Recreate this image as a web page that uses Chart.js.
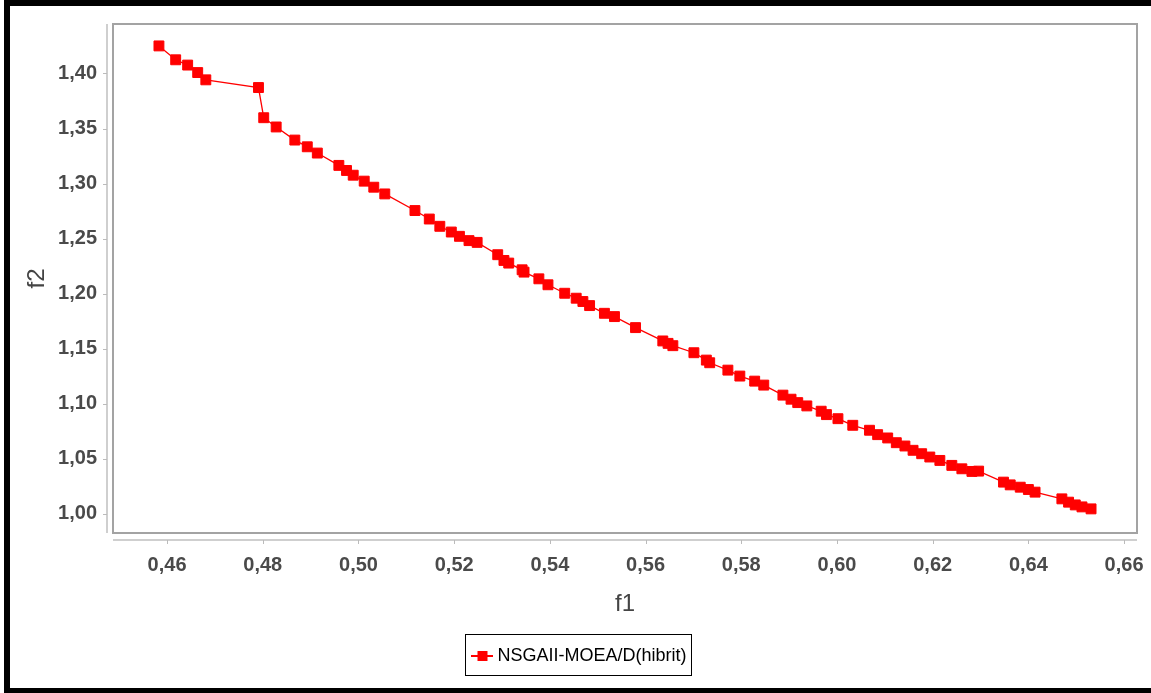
<!DOCTYPE html>
<html>
<head>
<meta charset="utf-8">
<script src="https://cdn.jsdelivr.net/npm/chart.js@4.4.1/dist/chart.umd.min.js"></script>
<style>
  html, body { margin: 0; padding: 0; background: #fff; }
  #wrap { position: relative; width: 1151px; height: 693px; overflow: hidden; }
  #wrap canvas { position: absolute; left: 0; top: 0; }
  .edge { position: absolute; background: #000; }
</style>
</head>
<body>
<div id="wrap">
  <canvas id="grafico" width="1151" height="693"></canvas>
  <div class="edge" style="left:5px;top:0;width:1146px;height:6px"></div>
  <div class="edge" style="left:4px;top:0;width:6px;height:693px"></div>
  <div class="edge" style="left:4px;top:688px;width:1147px;height:5px"></div>
</div>
<script>
// valores (f1, f2)
const f1 = [
  0.4583, 0.4618, 0.4643, 0.4664, 0.4681, 0.4791, 0.4802, 0.4828, 0.4867, 0.4893,
  0.4914, 0.4959, 0.4975, 0.4989, 0.5012, 0.5032, 0.5055,
  0.5118, 0.5148, 0.5170, 0.5194, 0.5211, 0.5231, 0.5248, 0.5291, 0.5304, 0.5314,
  0.5342, 0.5346, 0.5377, 0.5396, 0.5431, 0.5455, 0.5469, 0.5483, 0.5514, 0.5535, 0.5579,
  0.5636, 0.5647, 0.5657, 0.5701, 0.5727, 0.5734, 0.5772, 0.5797, 0.5828, 0.5847,
  0.5887, 0.5904, 0.5918, 0.5937, 0.5967, 0.5978, 0.6002, 0.6033, 0.6068, 0.6085, 0.6106,
  0.6124, 0.6142, 0.6159, 0.6177, 0.6194, 0.6215, 0.6240, 0.6261, 0.6282, 0.6296,
  0.6348, 0.6362, 0.6383, 0.6400, 0.6414, 0.6470, 0.6484, 0.6498, 0.6512, 0.6531,
];
const f2 = [
  1.4250, 1.4124, 1.4076, 1.4008, 1.3942, 1.3872, 1.3598, 1.3514, 1.3395, 1.3334,
  1.3277, 1.3165, 1.3119, 1.3076, 1.3022, 1.2967, 1.2906,
  1.2755, 1.2678, 1.2612, 1.2560, 1.2521, 1.2482, 1.2466, 1.2354, 1.2302, 1.2278,
  1.2217, 1.2196, 1.2135, 1.2081, 1.2004, 1.1959, 1.1929, 1.1892, 1.1822, 1.1792, 1.1692,
  1.1571, 1.1549, 1.1528, 1.1464, 1.1397, 1.1373, 1.1306, 1.1252, 1.1206, 1.1170,
  1.1079, 1.1042, 1.1011, 1.0981, 1.0933, 1.0902, 1.0865, 1.0805, 1.0760, 1.0720, 1.0690,
  1.0647, 1.0617, 1.0578, 1.0547, 1.0517, 1.0486, 1.0441, 1.0410, 1.0386, 1.0389,
  1.0289, 1.0264, 1.0243, 1.0222, 1.0198, 1.0137, 1.0107, 1.0082, 1.0064, 1.0046,
];
const serie = "NSGAII-MOEA/D(hibrit)";
const ticksX = [0.46, 0.48, 0.50, 0.52, 0.54, 0.56, 0.58, 0.60, 0.62, 0.64, 0.66];
const ticksY = [1.00, 1.05, 1.10, 1.15, 1.20, 1.25, 1.30, 1.35, 1.40];

const vermelho = "#ff0000";
const virgula = (v) => v.toFixed(2).replace(".", ",");

// marcador da legenda: linha com quadrado no meio
function marcadorLegenda() {
  const c = document.createElement("canvas");
  c.width = 22; c.height = 12;
  const g = c.getContext("2d");
  g.fillStyle = vermelho;
  g.fillRect(0, 5, 22, 2);
  g.fillRect(6, 1, 10, 10);
  return c;
}

// moldura do gráfico, eixos deslocados e caixa da legenda
const moldura = {
  id: "moldura",
  afterLayout(chart) {
    // legenda um pouco à direita, como no original
    if (chart.legend) { chart.legend.left += 8; chart.legend.right += 8; }
  },
  afterDraw(chart) {
    const { ctx, chartArea: a, scales } = chart;
    ctx.save();
    ctx.strokeStyle = "#a3a3a3";
    ctx.lineWidth = 2;
    ctx.strokeRect(a.left, a.top, a.right - a.left, a.bottom - a.top);

    ctx.strokeStyle = "#cfcfcf";
    ctx.lineWidth = 2;
    const yEixo = a.left - 6;
    ctx.beginPath();
    ctx.moveTo(yEixo, a.top);
    ctx.lineTo(yEixo, a.bottom);
    const xEixo = a.bottom + 7;
    ctx.moveTo(a.left, xEixo);
    ctx.lineTo(a.right, xEixo);
    ctx.stroke();

    ctx.lineWidth = 1;
    ctx.strokeStyle = "#bbbbbb";
    ctx.beginPath();
    ticksY.forEach((v) => {
      const y = Math.round(scales.y.getPixelForValue(v)) + 0.5;
      ctx.moveTo(yEixo - 4, y);
      ctx.lineTo(yEixo, y);
    });
    ticksX.forEach((v) => {
      const x = Math.round(scales.x.getPixelForValue(v)) + 0.5;
      ctx.moveTo(x, xEixo);
      ctx.lineTo(x, xEixo + 4);
    });
    ctx.stroke();

    const hb = chart.legend?.legendHitBoxes?.[0];
    if (hb) {
      ctx.strokeStyle = "#000";
      ctx.lineWidth = 1;
      ctx.strokeRect(Math.round(hb.left) - 10.5, Math.round(hb.top) - 12.5, Math.round(hb.width) + 16, Math.round(hb.height) + 23);
    }
    ctx.restore();
  },
};

const fonteEixo = { family: "'Liberation Sans', Arial, sans-serif", size: 20, weight: "bold" };
const fonteTitulo = { family: "'Liberation Sans', Arial, sans-serif", size: 24 };

new Chart(document.getElementById("grafico").getContext("2d"), {
  type: "scatter",
  data: {
    datasets: [{
      label: serie,
      data: f1.map((x, i) => ({ x, y: f2[i] })),
      showLine: true,
      borderColor: vermelho,
      borderWidth: 1.3,
      backgroundColor: vermelho,
      pointStyle: "rect",
      pointRadius: 7,
      pointBorderWidth: 1,
      pointBorderColor: vermelho,
      pointBackgroundColor: vermelho,
    }],
  },
  options: {
    responsive: false,
    animation: false,
    layout: { padding: { left: 10, top: 24, right: 14, bottom: 18 } },
    plugins: {
      tooltip: { enabled: false },
      legend: {
        position: "bottom",
        labels: {
          usePointStyle: true,
          pointStyleWidth: 12,
          padding: 10,
          color: "#222",
          font: { family: "'Liberation Sans', Arial, sans-serif", size: 18 },
          generateLabels: () => [{
            text: serie,
            pointStyle: marcadorLegenda(),
            fillStyle: vermelho,
            strokeStyle: vermelho,
            lineWidth: 0,
            datasetIndex: 0,
          }],
        },
      },
    },
    scales: {
      x: {
        type: "linear",
        min: 0.4487,
        max: 0.6627,
        afterBuildTicks: (s) => { s.ticks = ticksX.map((value) => ({ value })); },
        afterFit: (s) => { s.height = 104; s.paddingLeft = 0; s.paddingRight = 0; },
        grid: { display: false, drawTicks: false },
        border: { display: false },
        ticks: { color: "#4a4a4a", font: fonteEixo, padding: 20, maxRotation: 0, callback: virgula },
        title: { display: true, text: "f1", color: "#444", font: fonteTitulo, padding: { top: 0, bottom: 18 } },
      },
      y: {
        type: "linear",
        min: 0.9827,
        max: 1.4449,
        afterBuildTicks: (s) => { s.ticks = ticksY.map((value) => ({ value })); },
        afterFit: (s) => { s.width = 103; s.paddingTop = 0; s.paddingBottom = 0; },
        grid: { display: false, drawTicks: false },
        border: { display: false },
        ticks: { color: "#4a4a4a", font: fonteEixo, padding: 16, callback: virgula },
        title: { display: true, text: "f2", color: "#444", font: fonteTitulo, padding: { top: 13, bottom: 0 } },
      },
    },
  },
  plugins: [moldura],
});
</script>
</body>
</html>
